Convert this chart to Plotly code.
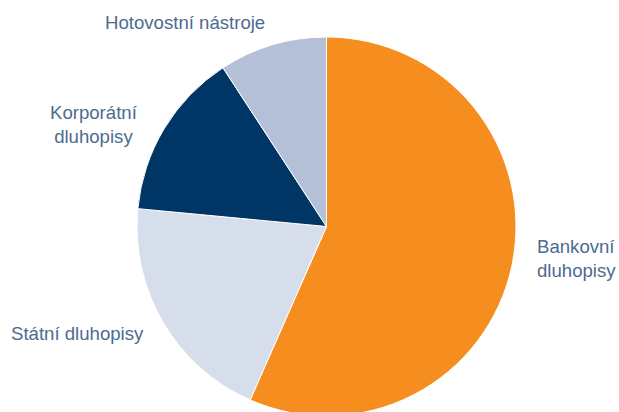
import plotly.graph_objects as go

W, H = 619, 412
OFF = 0  # body margin removed via post_script

labels = ["Bankovní dluhopisy", "Státní dluhopisy", "Korporátní dluhopisy", "Hotovostní nástroje"]
values = [56.6, 19.9, 14.3, 9.2]
colors = ["#F68E1F", "#D6DEEB", "#003665", "#B3C0D7"]

# label text and their pixel anchor positions in the screenshot (x, centre y, alignment)
label_texts = ["Bankovní<br>dluhopisy", "Státní dluhopisy", "Korporátní<br>dluhopisy", "Hotovostní nástroje"]
label_pos = [(535, 258, "left"), (9, 333, "left"), (94, 124, "center"), (185, 22, "center")]

# pie geometry in screenshot pixels (bottom slightly beyond the frame, as in the reference)
cx, cy, r = 326.5, 226.5, 189.5
H_EXT = 420  # figure taller than the window so the pie bottom is cut like the reference
cxf, cyf = cx - OFF, cy - OFF
dom_x = [(cxf - 250) / W, (cxf + 250) / W]
dom_y = [(H_EXT - (cyf + r)) / H_EXT, (H_EXT - (cyf - r)) / H_EXT]

fig = go.Figure(go.Pie(
    labels=labels,
    values=values,
    sort=False,
    direction="clockwise",
    rotation=0,
    marker=dict(colors=colors, line=dict(color="white", width=1)),
    textinfo="none",
    hoverinfo="label+percent",
    domain=dict(x=dom_x, y=dom_y),
    showlegend=False,
))

for txt, (px, py, al) in zip(label_texts, label_pos):
    fig.add_annotation(
        text=txt, x=(px - OFF) / W, y=1 - (py - OFF) / H_EXT, xref="paper", yref="paper",
        xanchor=al, yanchor="middle", align=al, showarrow=False,
        font=dict(family="Liberation Sans, Arial, sans-serif", size=18.6, color="#4D6B8F"),
    )

fig.update_layout(
    width=W, height=H_EXT, autosize=False,
    margin=dict(l=0, r=0, t=0, b=0),
    paper_bgcolor="white", plot_bgcolor="white",
)

fig.write_html(
    "out.html",
    config={"displayModeBar": False},
    post_script="document.body.style.margin='0';document.body.style.overflow='hidden';"
                "document.documentElement.style.overflow='hidden';",
)
